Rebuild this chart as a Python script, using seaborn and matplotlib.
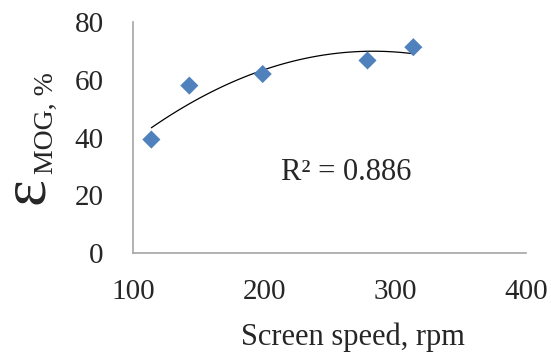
import numpy as np
import pandas as pd
import matplotlib
matplotlib.use('Agg')
import matplotlib.pyplot as plt
import seaborn as sns

speed = [114, 143, 199, 279, 314]
mog = [39.3, 58.0, 62.0, 66.7, 71.3]
r2_text = 'R² = 0.886'

df = pd.DataFrame({'speed': speed, 'mog': mog})

sns.set_style('white')
plt.rcParams['font.family'] = ['Liberation Serif', 'DejaVu Serif']
plt.rcParams['mathtext.fontset'] = 'custom'
plt.rcParams['mathtext.rm'] = 'Liberation Serif'

fig = plt.figure(figsize=(5.51, 3.56), dpi=100)
ax = fig.add_axes([0.2414, 0.2893, 0.9546 - 0.2414, 0.938 - 0.2893])

# polynomial trendline (order 2), like the spreadsheet one
sns.regplot(x='speed', y='mog', data=df, order=2, ci=None, scatter=False,
            line_kws={'color': 'black', 'lw': 0.9}, ax=ax)
sns.scatterplot(x='speed', y='mog', data=df, marker='D', s=85,
                color='#4F81BD', edgecolor='none', ax=ax, zorder=3)

ax.set_xlim(100, 400)
ax.set_ylim(0, 80)
ax.set_xticks([100, 200, 300, 400])
ax.set_yticks([0, 20, 40, 60, 80])
ax.tick_params(axis='both', length=0, labelsize=21)
ax.tick_params(axis='x', pad=19)
ax.tick_params(axis='y', pad=21)
ax.set_xlabel('Screen speed, rpm', fontsize=22)
ax.xaxis.set_label_coords(0.56, -0.30)
ax.set_ylabel('')

for s in ['top', 'right']:
    ax.spines[s].set_visible(False)
for s in ['left', 'bottom']:
    ax.spines[s].set_color('#A6A6A6')
    ax.spines[s].set_linewidth(1.2)

ax.text(263, 28, r2_text, fontsize=22, ha='center', va='center')

# y label: big epsilon with subscript
fig.text(31 / 551, 1 - 193 / 356, r'$\mathrm{ε}$', fontsize=46, rotation=90,
         ha='center', va='center')
fig.text(46 / 551, 1 - 123 / 356, 'MOG, %', fontsize=20, rotation=90,
         ha='center', va='center')

fig.savefig('out.png', dpi=100)
